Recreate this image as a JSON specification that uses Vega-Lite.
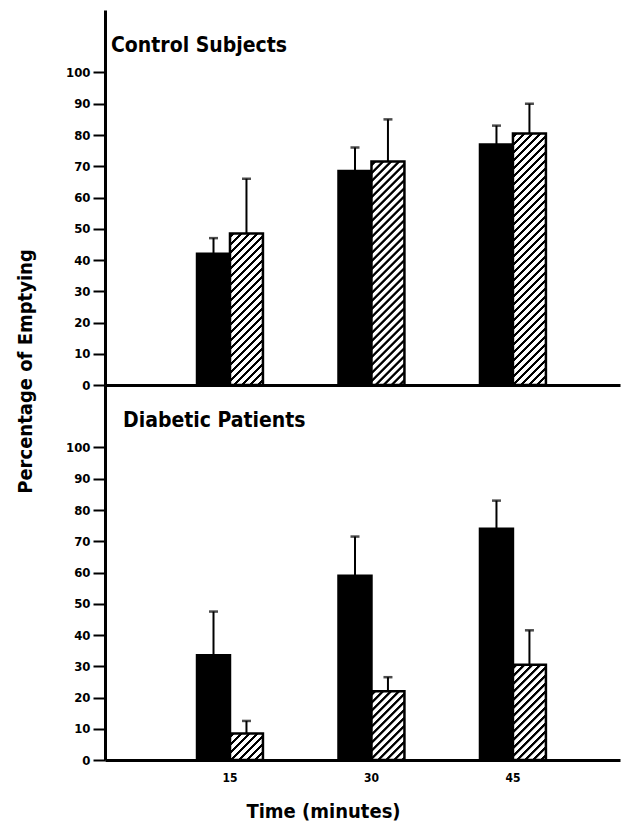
{
  "$schema": "https://vega.github.io/schema/vega-lite/v6.json",
  "background": "white",
  "padding": {"left": 15, "top": 10, "right": 5, "bottom": 2},
  "spacing": 0,
  "bounds": "flush",
  "config": {
    "view": {"stroke": null},
    "font": "DejaVu Sans Condensed, DejaVu Sans, sans-serif",
    "axis": {"domainColor": "black", "domainWidth": 3, "tickColor": "black", "tickWidth": 2, "labelColor": "black", "titleColor": "black", "labelFontWeight": "bold", "titleFontWeight": "bold", "grid": false},
    "title": {"color": "black", "fontWeight": "bold", "fontSize": 21, "anchor": "start", "frame": "group", "baseline": "alphabetic", "offset": -46}
  },
  "data": {"values": [
    {"panel": "Control", "time": 15, "series": "A", "mean": 42, "upper": 47},
    {"panel": "Control", "time": 15, "series": "B", "mean": 48.5, "upper": 66},
    {"panel": "Control", "time": 30, "series": "A", "mean": 68.5, "upper": 76},
    {"panel": "Control", "time": 30, "series": "B", "mean": 71.5, "upper": 85},
    {"panel": "Control", "time": 45, "series": "A", "mean": 77, "upper": 83},
    {"panel": "Control", "time": 45, "series": "B", "mean": 80.5, "upper": 90},
    {"panel": "Diabetic", "time": 15, "series": "A", "mean": 33.5, "upper": 47.5},
    {"panel": "Diabetic", "time": 15, "series": "B", "mean": 8.5, "upper": 12.5},
    {"panel": "Diabetic", "time": 30, "series": "A", "mean": 59, "upper": 71.5},
    {"panel": "Diabetic", "time": 30, "series": "B", "mean": 22, "upper": 26.5},
    {"panel": "Diabetic", "time": 45, "series": "A", "mean": 74, "upper": 83},
    {"panel": "Diabetic", "time": 45, "series": "B", "mean": 30.5, "upper": 41.5}
  ]},
  "vconcat": [
    {
      "width": 515,
      "height": 375,
      "title": {"text": "Control Subjects", "dx": 6},
      "transform": [{"filter": "datum.panel === 'Control'"}],
      "encoding": {
        "x": {"field": "time", "type": "ordinal", "scale": {"paddingInner": 0.534, "paddingOuter": 0.587, "align": 0.554}, "axis": {"labels": false, "ticks": false, "title": null}},
        "xOffset": {"field": "series", "type": "nominal", "scale": {"domain": ["A", "B"], "paddingInner": 0, "paddingOuter": 0}},
        "y": {"field": "mean", "type": "quantitative", "scale": {"domain": [0, 120], "nice": false},
          "axis": {"values": [0, 10, 20, 30, 40, 50, 60, 70, 80, 90, 100], "tickSize": 12, "labelFontSize": 13, "labelPadding": 3,
            "title": "Percentage of Emptying", "titleFontSize": 20, "titleX": -74, "titleY": 361, "titleAngle": -90, "titleAlign": "center", "titleBaseline": "alphabetic"}}
      },
      "layer": [
        {"transform": [{"filter": "datum.series === 'A'"}], "mark": {"type": "bar", "fill": "black", "stroke": "black", "strokeWidth": 2.5}},
        {"transform": [{"filter": "datum.series === 'B'"}], "mark": {"type": "bar", "stroke": "black", "strokeWidth": 2.5},
          "encoding": {"fill": {"condition": [
            {"test": "datum.time === 15", "value": {"gradient": "linear", "x1": 0, "y1": 0, "x2": 0.4389, "y2": 2.0157, "stops": [
{"offset":0.005,"color":"#fff"},{"offset":0.0075,"color":"#000"},{"offset":0.015,"color":"#000"},{"offset":0.0175,"color":"#fff"},
{"offset":0.03,"color":"#fff"},{"offset":0.0325,"color":"#000"},{"offset":0.04,"color":"#000"},{"offset":0.0425,"color":"#fff"},
{"offset":0.055,"color":"#fff"},{"offset":0.0575,"color":"#000"},{"offset":0.065,"color":"#000"},{"offset":0.0675,"color":"#fff"},
{"offset":0.08,"color":"#fff"},{"offset":0.0825,"color":"#000"},{"offset":0.09,"color":"#000"},{"offset":0.0925,"color":"#fff"},
{"offset":0.105,"color":"#fff"},{"offset":0.1075,"color":"#000"},{"offset":0.115,"color":"#000"},{"offset":0.1175,"color":"#fff"},
{"offset":0.13,"color":"#fff"},{"offset":0.1325,"color":"#000"},{"offset":0.14,"color":"#000"},{"offset":0.1425,"color":"#fff"},
{"offset":0.155,"color":"#fff"},{"offset":0.1575,"color":"#000"},{"offset":0.165,"color":"#000"},{"offset":0.1675,"color":"#fff"},
{"offset":0.18,"color":"#fff"},{"offset":0.1825,"color":"#000"},{"offset":0.19,"color":"#000"},{"offset":0.1925,"color":"#fff"},
{"offset":0.205,"color":"#fff"},{"offset":0.2075,"color":"#000"},{"offset":0.215,"color":"#000"},{"offset":0.2175,"color":"#fff"},
{"offset":0.23,"color":"#fff"},{"offset":0.2325,"color":"#000"},{"offset":0.24,"color":"#000"},{"offset":0.2425,"color":"#fff"},
{"offset":0.255,"color":"#fff"},{"offset":0.2575,"color":"#000"},{"offset":0.265,"color":"#000"},{"offset":0.2675,"color":"#fff"},
{"offset":0.28,"color":"#fff"},{"offset":0.2825,"color":"#000"},{"offset":0.29,"color":"#000"},{"offset":0.2925,"color":"#fff"},
{"offset":0.305,"color":"#fff"},{"offset":0.3075,"color":"#000"},{"offset":0.315,"color":"#000"},{"offset":0.3175,"color":"#fff"},
{"offset":0.33,"color":"#fff"},{"offset":0.3325,"color":"#000"},{"offset":0.34,"color":"#000"},{"offset":0.3425,"color":"#fff"},
{"offset":0.355,"color":"#fff"},{"offset":0.3575,"color":"#000"},{"offset":0.365,"color":"#000"},{"offset":0.3675,"color":"#fff"},
{"offset":0.38,"color":"#fff"},{"offset":0.3825,"color":"#000"},{"offset":0.39,"color":"#000"},{"offset":0.3925,"color":"#fff"},
{"offset":0.405,"color":"#fff"},{"offset":0.4075,"color":"#000"},{"offset":0.415,"color":"#000"},{"offset":0.4175,"color":"#fff"},
{"offset":0.43,"color":"#fff"},{"offset":0.4325,"color":"#000"},{"offset":0.44,"color":"#000"},{"offset":0.4425,"color":"#fff"},
{"offset":0.455,"color":"#fff"},{"offset":0.4575,"color":"#000"},{"offset":0.465,"color":"#000"},{"offset":0.4675,"color":"#fff"},
{"offset":0.48,"color":"#fff"},{"offset":0.4825,"color":"#000"},{"offset":0.49,"color":"#000"},{"offset":0.4925,"color":"#fff"},
{"offset":0.505,"color":"#fff"},{"offset":0.5075,"color":"#000"},{"offset":0.515,"color":"#000"},{"offset":0.5175,"color":"#fff"},
{"offset":0.53,"color":"#fff"},{"offset":0.5325,"color":"#000"},{"offset":0.54,"color":"#000"},{"offset":0.5425,"color":"#fff"},
{"offset":0.555,"color":"#fff"},{"offset":0.5575,"color":"#000"},{"offset":0.565,"color":"#000"},{"offset":0.5675,"color":"#fff"},
{"offset":0.58,"color":"#fff"},{"offset":0.5825,"color":"#000"},{"offset":0.59,"color":"#000"},{"offset":0.5925,"color":"#fff"}
            ]}},
            {"test": "datum.time === 30", "value": {"gradient": "linear", "x1": 0, "y1": 0, "x2": 0.207, "y2": 1.4016, "stops": [
{"offset":0.005,"color":"#fff"},{"offset":0.0075,"color":"#000"},{"offset":0.015,"color":"#000"},{"offset":0.0175,"color":"#fff"},
{"offset":0.03,"color":"#fff"},{"offset":0.0325,"color":"#000"},{"offset":0.04,"color":"#000"},{"offset":0.0425,"color":"#fff"},
{"offset":0.055,"color":"#fff"},{"offset":0.0575,"color":"#000"},{"offset":0.065,"color":"#000"},{"offset":0.0675,"color":"#fff"},
{"offset":0.08,"color":"#fff"},{"offset":0.0825,"color":"#000"},{"offset":0.09,"color":"#000"},{"offset":0.0925,"color":"#fff"},
{"offset":0.105,"color":"#fff"},{"offset":0.1075,"color":"#000"},{"offset":0.115,"color":"#000"},{"offset":0.1175,"color":"#fff"},
{"offset":0.13,"color":"#fff"},{"offset":0.1325,"color":"#000"},{"offset":0.14,"color":"#000"},{"offset":0.1425,"color":"#fff"},
{"offset":0.155,"color":"#fff"},{"offset":0.1575,"color":"#000"},{"offset":0.165,"color":"#000"},{"offset":0.1675,"color":"#fff"},
{"offset":0.18,"color":"#fff"},{"offset":0.1825,"color":"#000"},{"offset":0.19,"color":"#000"},{"offset":0.1925,"color":"#fff"},
{"offset":0.205,"color":"#fff"},{"offset":0.2075,"color":"#000"},{"offset":0.215,"color":"#000"},{"offset":0.2175,"color":"#fff"},
{"offset":0.23,"color":"#fff"},{"offset":0.2325,"color":"#000"},{"offset":0.24,"color":"#000"},{"offset":0.2425,"color":"#fff"},
{"offset":0.255,"color":"#fff"},{"offset":0.2575,"color":"#000"},{"offset":0.265,"color":"#000"},{"offset":0.2675,"color":"#fff"},
{"offset":0.28,"color":"#fff"},{"offset":0.2825,"color":"#000"},{"offset":0.29,"color":"#000"},{"offset":0.2925,"color":"#fff"},
{"offset":0.305,"color":"#fff"},{"offset":0.3075,"color":"#000"},{"offset":0.315,"color":"#000"},{"offset":0.3175,"color":"#fff"},
{"offset":0.33,"color":"#fff"},{"offset":0.3325,"color":"#000"},{"offset":0.34,"color":"#000"},{"offset":0.3425,"color":"#fff"},
{"offset":0.355,"color":"#fff"},{"offset":0.3575,"color":"#000"},{"offset":0.365,"color":"#000"},{"offset":0.3675,"color":"#fff"},
{"offset":0.38,"color":"#fff"},{"offset":0.3825,"color":"#000"},{"offset":0.39,"color":"#000"},{"offset":0.3925,"color":"#fff"},
{"offset":0.405,"color":"#fff"},{"offset":0.4075,"color":"#000"},{"offset":0.415,"color":"#000"},{"offset":0.4175,"color":"#fff"},
{"offset":0.43,"color":"#fff"},{"offset":0.4325,"color":"#000"},{"offset":0.44,"color":"#000"},{"offset":0.4425,"color":"#fff"},
{"offset":0.455,"color":"#fff"},{"offset":0.4575,"color":"#000"},{"offset":0.465,"color":"#000"},{"offset":0.4675,"color":"#fff"},
{"offset":0.48,"color":"#fff"},{"offset":0.4825,"color":"#000"},{"offset":0.49,"color":"#000"},{"offset":0.4925,"color":"#fff"},
{"offset":0.505,"color":"#fff"},{"offset":0.5075,"color":"#000"},{"offset":0.515,"color":"#000"},{"offset":0.5175,"color":"#fff"},
{"offset":0.53,"color":"#fff"},{"offset":0.5325,"color":"#000"},{"offset":0.54,"color":"#000"},{"offset":0.5425,"color":"#fff"},
{"offset":0.555,"color":"#fff"},{"offset":0.5575,"color":"#000"},{"offset":0.565,"color":"#000"},{"offset":0.5675,"color":"#fff"},
{"offset":0.58,"color":"#fff"},{"offset":0.5825,"color":"#000"},{"offset":0.59,"color":"#000"},{"offset":0.5925,"color":"#fff"},
{"offset":0.605,"color":"#fff"},{"offset":0.6075,"color":"#000"},{"offset":0.615,"color":"#000"},{"offset":0.6175,"color":"#fff"},
{"offset":0.63,"color":"#fff"},{"offset":0.6325,"color":"#000"},{"offset":0.64,"color":"#000"},{"offset":0.6425,"color":"#fff"},
{"offset":0.655,"color":"#fff"},{"offset":0.6575,"color":"#000"},{"offset":0.665,"color":"#000"},{"offset":0.6675,"color":"#fff"},
{"offset":0.68,"color":"#fff"},{"offset":0.6825,"color":"#000"},{"offset":0.69,"color":"#000"},{"offset":0.6925,"color":"#fff"},
{"offset":0.705,"color":"#fff"},{"offset":0.7075,"color":"#000"},{"offset":0.715,"color":"#000"},{"offset":0.7175,"color":"#fff"},
{"offset":0.73,"color":"#fff"},{"offset":0.7325,"color":"#000"},{"offset":0.74,"color":"#000"},{"offset":0.7425,"color":"#fff"},
{"offset":0.755,"color":"#fff"},{"offset":0.7575,"color":"#000"},{"offset":0.765,"color":"#000"},{"offset":0.7675,"color":"#fff"},
{"offset":0.78,"color":"#fff"},{"offset":0.7825,"color":"#000"},{"offset":0.79,"color":"#000"},{"offset":0.7925,"color":"#fff"},
{"offset":0.805,"color":"#fff"},{"offset":0.8075,"color":"#000"},{"offset":0.815,"color":"#000"},{"offset":0.8175,"color":"#fff"}
            ]}},
            {"test": "datum.time === 45", "value": {"gradient": "linear", "x1": 0, "y1": 0, "x2": 0.164, "y2": 1.2505, "stops": [
{"offset":0.005,"color":"#fff"},{"offset":0.0075,"color":"#000"},{"offset":0.015,"color":"#000"},{"offset":0.0175,"color":"#fff"},
{"offset":0.03,"color":"#fff"},{"offset":0.0325,"color":"#000"},{"offset":0.04,"color":"#000"},{"offset":0.0425,"color":"#fff"},
{"offset":0.055,"color":"#fff"},{"offset":0.0575,"color":"#000"},{"offset":0.065,"color":"#000"},{"offset":0.0675,"color":"#fff"},
{"offset":0.08,"color":"#fff"},{"offset":0.0825,"color":"#000"},{"offset":0.09,"color":"#000"},{"offset":0.0925,"color":"#fff"},
{"offset":0.105,"color":"#fff"},{"offset":0.1075,"color":"#000"},{"offset":0.115,"color":"#000"},{"offset":0.1175,"color":"#fff"},
{"offset":0.13,"color":"#fff"},{"offset":0.1325,"color":"#000"},{"offset":0.14,"color":"#000"},{"offset":0.1425,"color":"#fff"},
{"offset":0.155,"color":"#fff"},{"offset":0.1575,"color":"#000"},{"offset":0.165,"color":"#000"},{"offset":0.1675,"color":"#fff"},
{"offset":0.18,"color":"#fff"},{"offset":0.1825,"color":"#000"},{"offset":0.19,"color":"#000"},{"offset":0.1925,"color":"#fff"},
{"offset":0.205,"color":"#fff"},{"offset":0.2075,"color":"#000"},{"offset":0.215,"color":"#000"},{"offset":0.2175,"color":"#fff"},
{"offset":0.23,"color":"#fff"},{"offset":0.2325,"color":"#000"},{"offset":0.24,"color":"#000"},{"offset":0.2425,"color":"#fff"},
{"offset":0.255,"color":"#fff"},{"offset":0.2575,"color":"#000"},{"offset":0.265,"color":"#000"},{"offset":0.2675,"color":"#fff"},
{"offset":0.28,"color":"#fff"},{"offset":0.2825,"color":"#000"},{"offset":0.29,"color":"#000"},{"offset":0.2925,"color":"#fff"},
{"offset":0.305,"color":"#fff"},{"offset":0.3075,"color":"#000"},{"offset":0.315,"color":"#000"},{"offset":0.3175,"color":"#fff"},
{"offset":0.33,"color":"#fff"},{"offset":0.3325,"color":"#000"},{"offset":0.34,"color":"#000"},{"offset":0.3425,"color":"#fff"},
{"offset":0.355,"color":"#fff"},{"offset":0.3575,"color":"#000"},{"offset":0.365,"color":"#000"},{"offset":0.3675,"color":"#fff"},
{"offset":0.38,"color":"#fff"},{"offset":0.3825,"color":"#000"},{"offset":0.39,"color":"#000"},{"offset":0.3925,"color":"#fff"},
{"offset":0.405,"color":"#fff"},{"offset":0.4075,"color":"#000"},{"offset":0.415,"color":"#000"},{"offset":0.4175,"color":"#fff"},
{"offset":0.43,"color":"#fff"},{"offset":0.4325,"color":"#000"},{"offset":0.44,"color":"#000"},{"offset":0.4425,"color":"#fff"},
{"offset":0.455,"color":"#fff"},{"offset":0.4575,"color":"#000"},{"offset":0.465,"color":"#000"},{"offset":0.4675,"color":"#fff"},
{"offset":0.48,"color":"#fff"},{"offset":0.4825,"color":"#000"},{"offset":0.49,"color":"#000"},{"offset":0.4925,"color":"#fff"},
{"offset":0.505,"color":"#fff"},{"offset":0.5075,"color":"#000"},{"offset":0.515,"color":"#000"},{"offset":0.5175,"color":"#fff"},
{"offset":0.53,"color":"#fff"},{"offset":0.5325,"color":"#000"},{"offset":0.54,"color":"#000"},{"offset":0.5425,"color":"#fff"},
{"offset":0.555,"color":"#fff"},{"offset":0.5575,"color":"#000"},{"offset":0.565,"color":"#000"},{"offset":0.5675,"color":"#fff"},
{"offset":0.58,"color":"#fff"},{"offset":0.5825,"color":"#000"},{"offset":0.59,"color":"#000"},{"offset":0.5925,"color":"#fff"},
{"offset":0.605,"color":"#fff"},{"offset":0.6075,"color":"#000"},{"offset":0.615,"color":"#000"},{"offset":0.6175,"color":"#fff"},
{"offset":0.63,"color":"#fff"},{"offset":0.6325,"color":"#000"},{"offset":0.64,"color":"#000"},{"offset":0.6425,"color":"#fff"},
{"offset":0.655,"color":"#fff"},{"offset":0.6575,"color":"#000"},{"offset":0.665,"color":"#000"},{"offset":0.6675,"color":"#fff"},
{"offset":0.68,"color":"#fff"},{"offset":0.6825,"color":"#000"},{"offset":0.69,"color":"#000"},{"offset":0.6925,"color":"#fff"},
{"offset":0.705,"color":"#fff"},{"offset":0.7075,"color":"#000"},{"offset":0.715,"color":"#000"},{"offset":0.7175,"color":"#fff"},
{"offset":0.73,"color":"#fff"},{"offset":0.7325,"color":"#000"},{"offset":0.74,"color":"#000"},{"offset":0.7425,"color":"#fff"},
{"offset":0.755,"color":"#fff"},{"offset":0.7575,"color":"#000"},{"offset":0.765,"color":"#000"},{"offset":0.7675,"color":"#fff"},
{"offset":0.78,"color":"#fff"},{"offset":0.7825,"color":"#000"},{"offset":0.79,"color":"#000"},{"offset":0.7925,"color":"#fff"},
{"offset":0.805,"color":"#fff"},{"offset":0.8075,"color":"#000"},{"offset":0.815,"color":"#000"},{"offset":0.8175,"color":"#fff"},
{"offset":0.83,"color":"#fff"},{"offset":0.8325,"color":"#000"},{"offset":0.84,"color":"#000"},{"offset":0.8425,"color":"#fff"},
{"offset":0.855,"color":"#fff"},{"offset":0.8575,"color":"#000"},{"offset":0.865,"color":"#000"},{"offset":0.8675,"color":"#fff"},
{"offset":0.88,"color":"#fff"},{"offset":0.8825,"color":"#000"},{"offset":0.89,"color":"#000"},{"offset":0.8925,"color":"#fff"}
            ]}}
          ], "value": "white"}}},
        {"mark": {"type": "rule", "color": "black", "strokeWidth": 2}, "encoding": {"y2": {"field": "upper"}}},
        {"mark": {"type": "tick", "color": "black", "thickness": 2.5, "size": 9}, "encoding": {"y": {"field": "upper", "type": "quantitative"}}}
      ]
    },
    {
      "width": 515,
      "height": 375,
      "title": {"text": "Diabetic Patients", "dx": 18},
      "transform": [{"filter": "datum.panel === 'Diabetic'"}],
      "encoding": {
        "x": {"field": "time", "type": "ordinal", "scale": {"paddingInner": 0.534, "paddingOuter": 0.587, "align": 0.554},
          "axis": {"ticks": false, "labelAngle": 0, "labelFontSize": 12, "labelPadding": 12, "title": "Time (minutes)", "titleFontSize": 20, "titleX": 218, "titleY": 57, "titleAlign": "center", "titleBaseline": "alphabetic"}},
        "xOffset": {"field": "series", "type": "nominal", "scale": {"domain": ["A", "B"], "paddingInner": 0, "paddingOuter": 0}},
        "y": {"field": "mean", "type": "quantitative", "scale": {"domain": [0, 120], "nice": false},
          "axis": {"values": [0, 10, 20, 30, 40, 50, 60, 70, 80, 90, 100], "tickSize": 12, "labelFontSize": 13, "labelPadding": 3, "title": null}}
      },
      "layer": [
        {"transform": [{"filter": "datum.series === 'A'"}], "mark": {"type": "bar", "fill": "black", "stroke": "black", "strokeWidth": 2.5}},
        {"transform": [{"filter": "datum.series === 'B'"}], "mark": {"type": "bar", "stroke": "black", "strokeWidth": 2.5},
          "encoding": {"fill": {"condition": [
            {"test": "datum.time === 15", "value": {"gradient": "linear", "x1": 0, "y1": 0, "x2": 5.885, "y2": 4.7365, "stops": [
{"offset":0.005,"color":"#fff"},{"offset":0.0075,"color":"#000"},{"offset":0.015,"color":"#000"},{"offset":0.0175,"color":"#fff"},
{"offset":0.03,"color":"#fff"},{"offset":0.0325,"color":"#000"},{"offset":0.04,"color":"#000"},{"offset":0.0425,"color":"#fff"},
{"offset":0.055,"color":"#fff"},{"offset":0.0575,"color":"#000"},{"offset":0.065,"color":"#000"},{"offset":0.0675,"color":"#fff"},
{"offset":0.08,"color":"#fff"},{"offset":0.0825,"color":"#000"},{"offset":0.09,"color":"#000"},{"offset":0.0925,"color":"#fff"},
{"offset":0.105,"color":"#fff"},{"offset":0.1075,"color":"#000"},{"offset":0.115,"color":"#000"},{"offset":0.1175,"color":"#fff"},
{"offset":0.13,"color":"#fff"},{"offset":0.1325,"color":"#000"},{"offset":0.14,"color":"#000"},{"offset":0.1425,"color":"#fff"},
{"offset":0.155,"color":"#fff"},{"offset":0.1575,"color":"#000"},{"offset":0.165,"color":"#000"},{"offset":0.1675,"color":"#fff"},
{"offset":0.18,"color":"#fff"},{"offset":0.1825,"color":"#000"},{"offset":0.19,"color":"#000"},{"offset":0.1925,"color":"#fff"}
            ]}},
            {"test": "datum.time === 30", "value": {"gradient": "linear", "x1": 0, "y1": 0, "x2": 1.816, "y2": 3.783, "stops": [
{"offset":0.005,"color":"#fff"},{"offset":0.0075,"color":"#000"},{"offset":0.015,"color":"#000"},{"offset":0.0175,"color":"#fff"},
{"offset":0.03,"color":"#fff"},{"offset":0.0325,"color":"#000"},{"offset":0.04,"color":"#000"},{"offset":0.0425,"color":"#fff"},
{"offset":0.055,"color":"#fff"},{"offset":0.0575,"color":"#000"},{"offset":0.065,"color":"#000"},{"offset":0.0675,"color":"#fff"},
{"offset":0.08,"color":"#fff"},{"offset":0.0825,"color":"#000"},{"offset":0.09,"color":"#000"},{"offset":0.0925,"color":"#fff"},
{"offset":0.105,"color":"#fff"},{"offset":0.1075,"color":"#000"},{"offset":0.115,"color":"#000"},{"offset":0.1175,"color":"#fff"},
{"offset":0.13,"color":"#fff"},{"offset":0.1325,"color":"#000"},{"offset":0.14,"color":"#000"},{"offset":0.1425,"color":"#fff"},
{"offset":0.155,"color":"#fff"},{"offset":0.1575,"color":"#000"},{"offset":0.165,"color":"#000"},{"offset":0.1675,"color":"#fff"},
{"offset":0.18,"color":"#fff"},{"offset":0.1825,"color":"#000"},{"offset":0.19,"color":"#000"},{"offset":0.1925,"color":"#fff"},
{"offset":0.205,"color":"#fff"},{"offset":0.2075,"color":"#000"},{"offset":0.215,"color":"#000"},{"offset":0.2175,"color":"#fff"},
{"offset":0.23,"color":"#fff"},{"offset":0.2325,"color":"#000"},{"offset":0.24,"color":"#000"},{"offset":0.2425,"color":"#fff"},
{"offset":0.255,"color":"#fff"},{"offset":0.2575,"color":"#000"},{"offset":0.265,"color":"#000"},{"offset":0.2675,"color":"#fff"},
{"offset":0.28,"color":"#fff"},{"offset":0.2825,"color":"#000"},{"offset":0.29,"color":"#000"},{"offset":0.2925,"color":"#fff"},
{"offset":0.305,"color":"#fff"},{"offset":0.3075,"color":"#000"},{"offset":0.315,"color":"#000"},{"offset":0.3175,"color":"#fff"}
            ]}},
            {"test": "datum.time === 45", "value": {"gradient": "linear", "x1": 0, "y1": 0, "x2": 1.038, "y2": 2.998, "stops": [
{"offset":0.005,"color":"#fff"},{"offset":0.0075,"color":"#000"},{"offset":0.015,"color":"#000"},{"offset":0.0175,"color":"#fff"},
{"offset":0.03,"color":"#fff"},{"offset":0.0325,"color":"#000"},{"offset":0.04,"color":"#000"},{"offset":0.0425,"color":"#fff"},
{"offset":0.055,"color":"#fff"},{"offset":0.0575,"color":"#000"},{"offset":0.065,"color":"#000"},{"offset":0.0675,"color":"#fff"},
{"offset":0.08,"color":"#fff"},{"offset":0.0825,"color":"#000"},{"offset":0.09,"color":"#000"},{"offset":0.0925,"color":"#fff"},
{"offset":0.105,"color":"#fff"},{"offset":0.1075,"color":"#000"},{"offset":0.115,"color":"#000"},{"offset":0.1175,"color":"#fff"},
{"offset":0.13,"color":"#fff"},{"offset":0.1325,"color":"#000"},{"offset":0.14,"color":"#000"},{"offset":0.1425,"color":"#fff"},
{"offset":0.155,"color":"#fff"},{"offset":0.1575,"color":"#000"},{"offset":0.165,"color":"#000"},{"offset":0.1675,"color":"#fff"},
{"offset":0.18,"color":"#fff"},{"offset":0.1825,"color":"#000"},{"offset":0.19,"color":"#000"},{"offset":0.1925,"color":"#fff"},
{"offset":0.205,"color":"#fff"},{"offset":0.2075,"color":"#000"},{"offset":0.215,"color":"#000"},{"offset":0.2175,"color":"#fff"},
{"offset":0.23,"color":"#fff"},{"offset":0.2325,"color":"#000"},{"offset":0.24,"color":"#000"},{"offset":0.2425,"color":"#fff"},
{"offset":0.255,"color":"#fff"},{"offset":0.2575,"color":"#000"},{"offset":0.265,"color":"#000"},{"offset":0.2675,"color":"#fff"},
{"offset":0.28,"color":"#fff"},{"offset":0.2825,"color":"#000"},{"offset":0.29,"color":"#000"},{"offset":0.2925,"color":"#fff"},
{"offset":0.305,"color":"#fff"},{"offset":0.3075,"color":"#000"},{"offset":0.315,"color":"#000"},{"offset":0.3175,"color":"#fff"},
{"offset":0.33,"color":"#fff"},{"offset":0.3325,"color":"#000"},{"offset":0.34,"color":"#000"},{"offset":0.3425,"color":"#fff"},
{"offset":0.355,"color":"#fff"},{"offset":0.3575,"color":"#000"},{"offset":0.365,"color":"#000"},{"offset":0.3675,"color":"#fff"},
{"offset":0.38,"color":"#fff"},{"offset":0.3825,"color":"#000"},{"offset":0.39,"color":"#000"},{"offset":0.3925,"color":"#fff"},
{"offset":0.405,"color":"#fff"},{"offset":0.4075,"color":"#000"},{"offset":0.415,"color":"#000"},{"offset":0.4175,"color":"#fff"}
            ]}}
          ], "value": "white"}}},
        {"mark": {"type": "rule", "color": "black", "strokeWidth": 2}, "encoding": {"y2": {"field": "upper"}}},
        {"mark": {"type": "tick", "color": "black", "thickness": 2.5, "size": 9}, "encoding": {"y": {"field": "upper", "type": "quantitative"}}}
      ]
    }
  ]
}
